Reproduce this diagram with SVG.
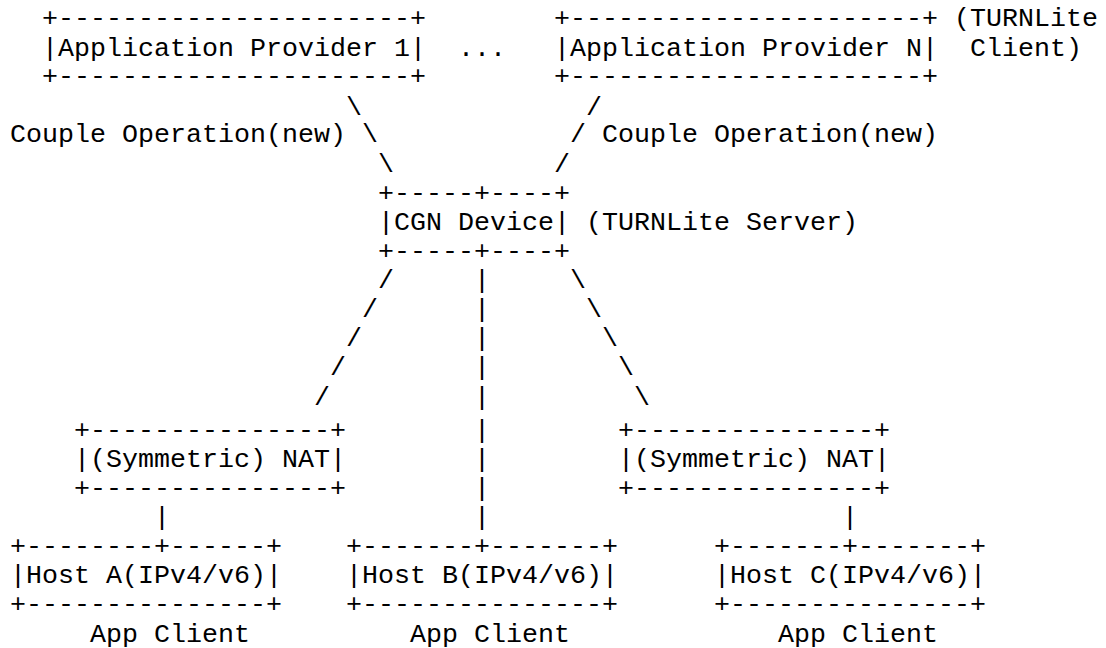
<svg xmlns="http://www.w3.org/2000/svg" width="1106" height="648" viewBox="0 0 1106 648">
<style>
text{font-family:"Liberation Mono","DejaVu Sans Mono",monospace;font-size:26.667px;fill:#000;white-space:pre}
</style>
<rect width="1106" height="648" fill="#fff"/>
<g id="provider1">
<text x="42" y="26">+----------------------+</text>
<text x="42" y="55.6">|Application Provider 1|</text>
<text x="42" y="84.2">+----------------------+</text>
</g>
<g id="ellipsis"><text x="458" y="55.6">...</text></g>
<g id="providerN">
<text x="554" y="26">+----------------------+</text>
<text x="554" y="55.6">|Application Provider N|</text>
<text x="554" y="84.2">+----------------------+</text>
<text x="954" y="26">(TURNLite</text>
<text x="970" y="55.6">Client)</text>
</g>
<g id="cgn">
<text x="378" y="200.6">+-----+----+</text>
<text x="378" y="229.7">|CGN Device|</text>
<text x="378" y="258.8">+-----+----+</text>
<text x="586" y="229.7">(TURNLite Server)</text>
</g>
<g id="nat-left">
<text x="74" y="437.6">+---------------+</text>
<text x="74" y="467">|(Symmetric) NAT|</text>
<text x="74" y="495.8">+---------------+</text>
</g>
<g id="nat-right">
<text x="618" y="437.6">+---------------+</text>
<text x="618" y="467">|(Symmetric) NAT|</text>
<text x="618" y="495.8">+---------------+</text>
</g>
<g id="hostA">
<text x="10" y="554">+--------+------+</text>
<text x="10" y="583.4">|Host A(IPv4/v6)|</text>
<text x="10" y="612.2">+---------------+</text>
<text x="90" y="641.6">App Client</text>
</g>
<g id="hostB">
<text x="346" y="554">+-------+-------+</text>
<text x="346" y="583.4">|Host B(IPv4/v6)|</text>
<text x="346" y="612.2">+---------------+</text>
<text x="410" y="641.6">App Client</text>
</g>
<g id="hostC">
<text x="714" y="554">+-------+-------+</text>
<text x="714" y="583.4">|Host C(IPv4/v6)|</text>
<text x="714" y="612.2">+---------------+</text>
<text x="778" y="641.6">App Client</text>
</g>
<g id="connectors">
<text x="346" y="114.5">\</text>
<text x="362" y="142.4">\</text>
<text x="378" y="171.5">\</text>
<text x="586" y="114.5">/</text>
<text x="570" y="142.4">/</text>
<text x="554" y="171.5">/</text>
<text x="10" y="142.4">Couple Operation(new)</text>
<text x="602" y="142.4">Couple Operation(new)</text>
<text x="378" y="287.9">/</text>
<text x="362" y="317">/</text>
<text x="346" y="346.1">/</text>
<text x="330" y="375.2">/</text>
<text x="314" y="405">/</text>
<text x="570" y="287.9">\</text>
<text x="586" y="317">\</text>
<text x="602" y="346.1">\</text>
<text x="618" y="375.2">\</text>
<text x="634" y="405">\</text>
<text x="474" y="287.9">|</text>
<text x="474" y="317">|</text>
<text x="474" y="346.1">|</text>
<text x="474" y="375.2">|</text>
<text x="474" y="405">|</text>
<text x="474" y="437.6">|</text>
<text x="474" y="467">|</text>
<text x="474" y="495.8">|</text>
<text x="474" y="524.9">|</text>
<text x="154" y="524.9">|</text>
<text x="842" y="524.9">|</text>
</g>
</svg>
